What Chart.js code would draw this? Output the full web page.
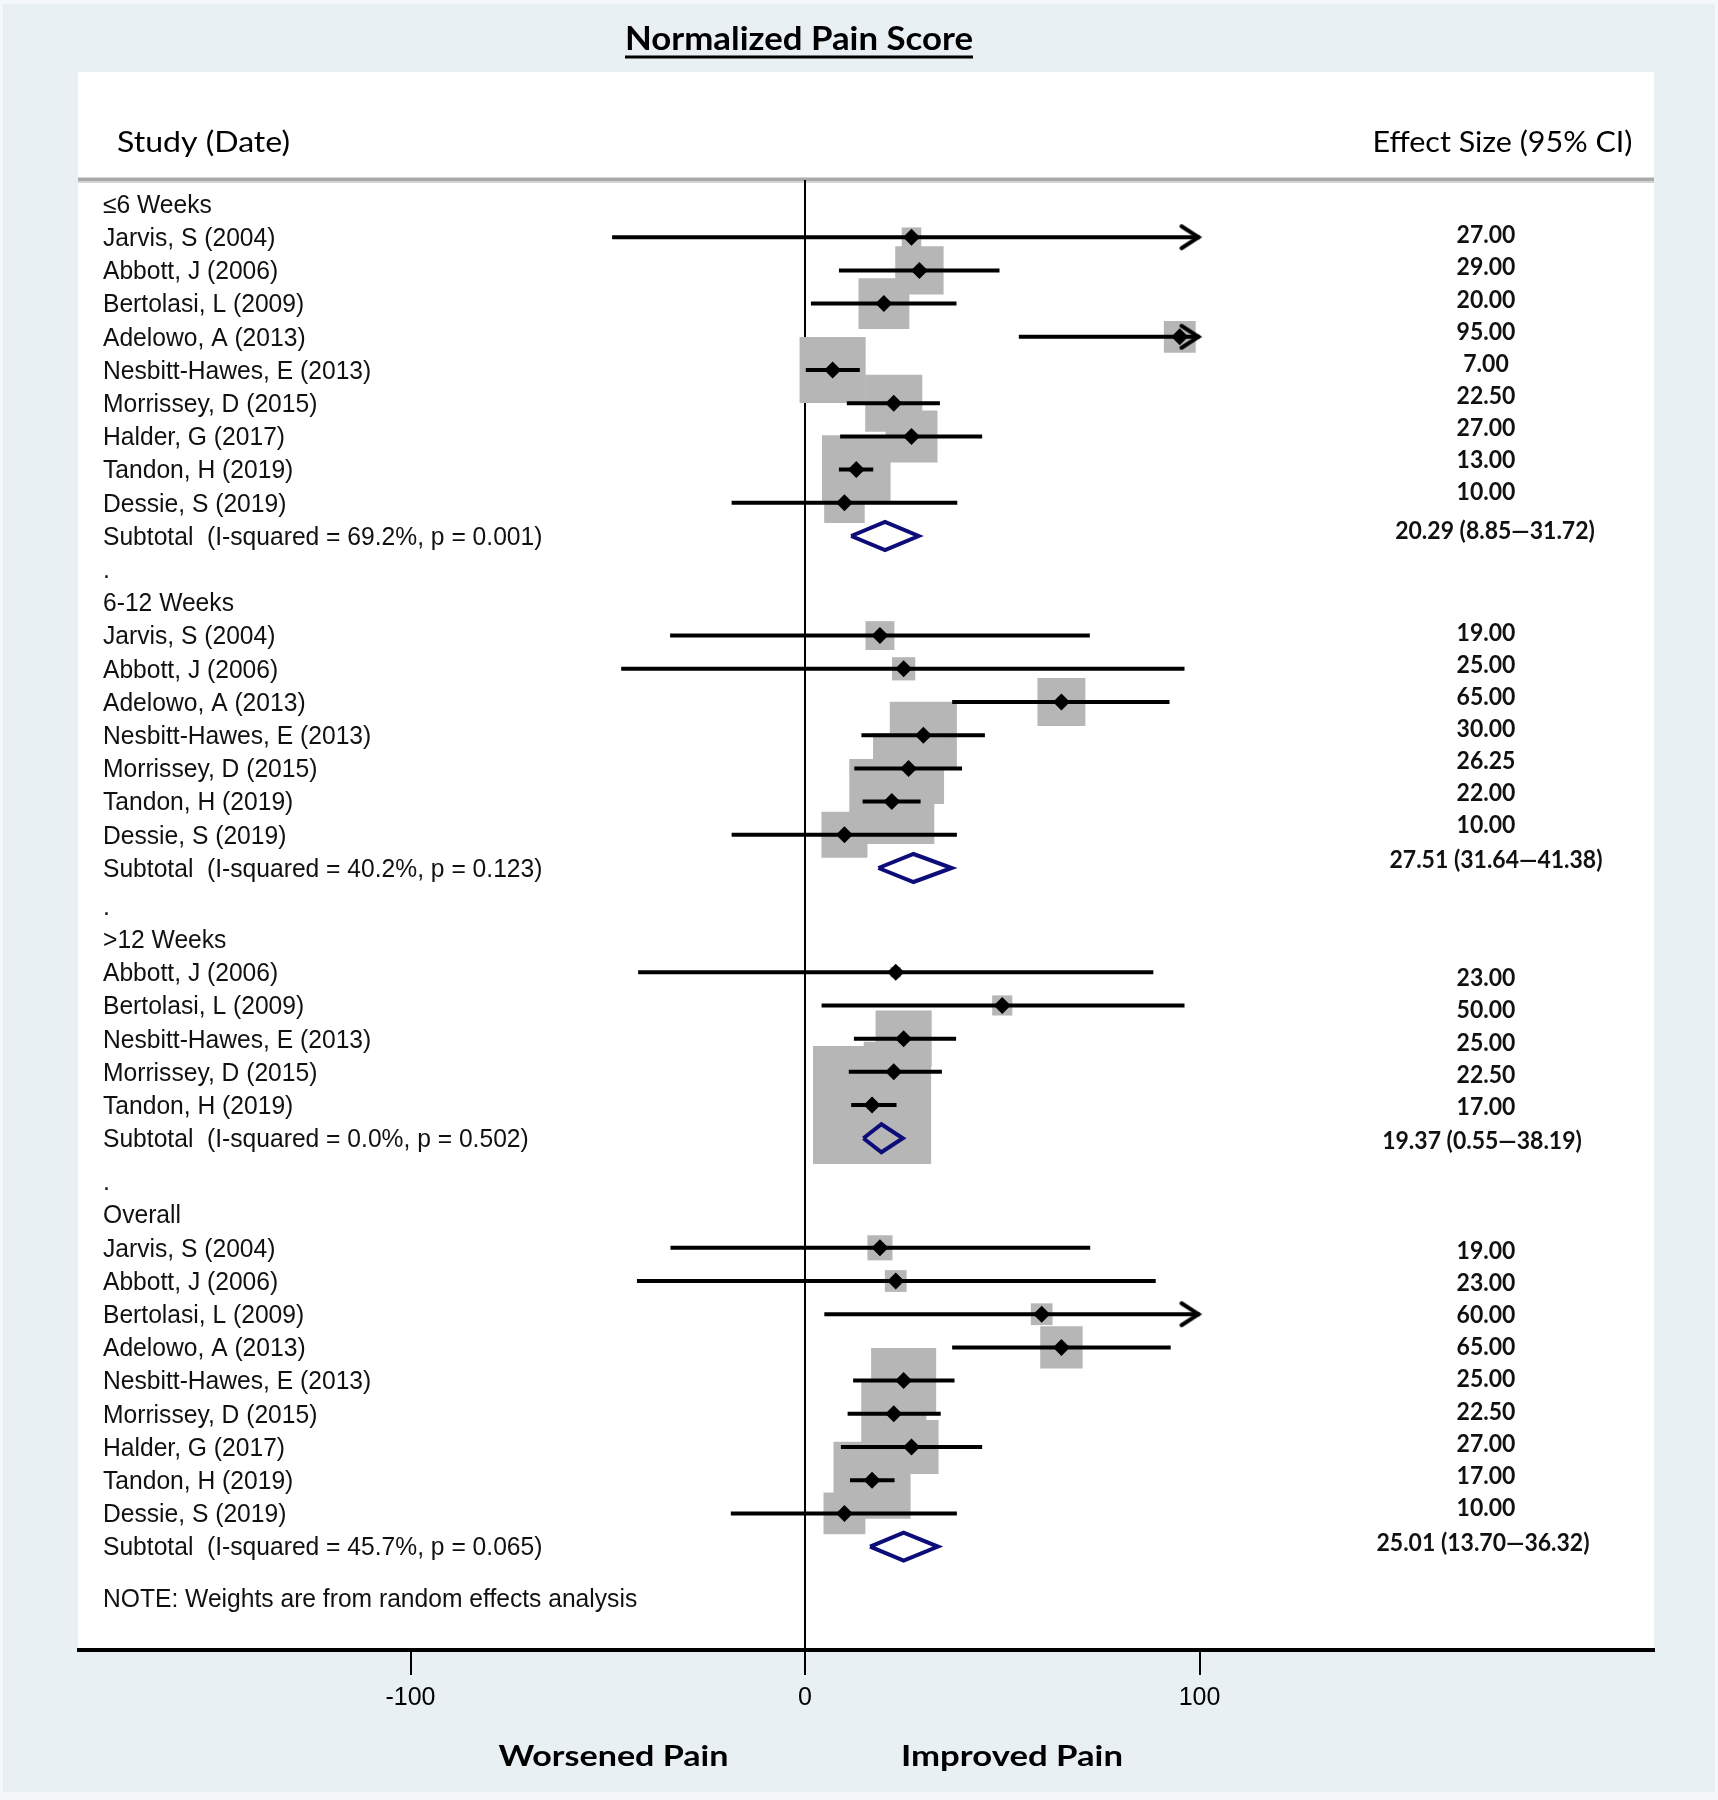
<!DOCTYPE html>
<html>
<head>
<meta charset="utf-8">
<title>Normalized Pain Score</title>
<script src="https://cdn.jsdelivr.net/npm/chart.js@4.4.1/dist/chart.umd.min.js"></script>
<style>
  html, body { margin: 0; padding: 0; background: #e9f0f3; }
  #wrap { width: 1718px; height: 1800px; }
</style>
</head>
<body>
<div id="wrap"><canvas id="forest" width="1718" height="1800"></canvas></div>
<script>
// ---- data ----
const groups = ["≤6 Weeks", "6-12 Weeks", ">12 Weeks", "Overall"];

const studies1 = ["Jarvis, S (2004)", "Abbott, J (2006)", "Bertolasi, L (2009)", "Adelowo, A (2013)",
  "Nesbitt-Hawes, E (2013)", "Morrissey, D (2015)", "Halder, G (2017)", "Tandon, H (2019)", "Dessie, S (2019)"];
const es1 = [27, 29, 20, 95, 7, 22.5, 27, 13, 10];
const lo1 = [-48.9, 8.6, 1.5, 54.2, 0.2, 10.6, 8.9, 8.6, -18.6];
const hi1 = [103, 49.3, 38.4, 136, 13.9, 34.2, 44.9, 17.3, 38.6];
const wt1 = [1.7, 10.4, 11.5, 4.5, 19.4, 14.5, 12.0, 20.9, 7.3];

const studies2 = ["Jarvis, S (2004)", "Abbott, J (2006)", "Adelowo, A (2013)", "Nesbitt-Hawes, E (2013)",
  "Morrissey, D (2015)", "Tandon, H (2019)", "Dessie, S (2019)"];
const es2 = [19, 25, 65, 30, 26.25, 22, 10];
const lo2 = [-34.2, -46.6, 37.3, 14.3, 12.5, 14.6, -18.6];
const hi2 = [72.2, 96.2, 92.4, 45.6, 39.8, 29.3, 38.5];
const wt2 = [3.7, 2.4, 10.2, 20.0, 22.4, 32.1, 9.4];

const studies3 = ["Abbott, J (2006)", "Bertolasi, L (2009)", "Nesbitt-Hawes, E (2013)", "Morrissey, D (2015)",
  "Tandon, H (2019)"];
const es3 = [23, 50, 25, 22.5, 17];
const lo3 = [-42.3, 4.2, 12.4, 11.1, 11.7];
const hi3 = [88.3, 96.2, 38.3, 34.7, 23.2];
const wt3 = [0.5, 1.8, 14.0, 16.0, 62.0];

const studies4 = ["Jarvis, S (2004)", "Abbott, J (2006)", "Bertolasi, L (2009)", "Adelowo, A (2013)",
  "Nesbitt-Hawes, E (2013)", "Morrissey, D (2015)", "Halder, G (2017)", "Tandon, H (2019)", "Dessie, S (2019)"];
const es4 = [19, 23, 60, 65, 25, 22.5, 27, 17, 10];
const lo4 = [-34.1, -42.6, 4.9, 37.3, 12.2, 10.8, 9.1, 11.4, -18.8];
const hi4 = [72.3, 88.9, 115, 92.7, 37.9, 34.4, 44.9, 22.7, 38.5];
const wt4 = [2.8, 2.1, 2.1, 8.0, 18.8, 18.8, 13.0, 26.4, 7.8];

// pooled (subtotal) estimates, drawn diamond ends and printed text
const pooledES = [20.29, 27.51, 19.37, 25.01];
const diamondLo = [11.7, 18.6, 14.8, 16.5];
const diamondHi = [28.8, 37.2, 24.8, 33.7];
const pooledText = ["20.29 (8.85\u201431.72)", "27.51 (31.64\u201441.38)", "19.37 (0.55\u201438.19)", "25.01 (13.70\u201436.32)"];
const hetText = [
  "Subtotal  (I-squared = 69.2%, p = 0.001)",
  "Subtotal  (I-squared = 40.2%, p = 0.123)",
  "Subtotal  (I-squared = 0.0%, p = 0.502)",
  "Subtotal  (I-squared = 45.7%, p = 0.065)"
];
const tickValues = [-100, 0, 100];
const clipAt = 100;

// ---- layout ----
const studyLists = [studies1, studies2, studies3, studies4];
const esLists = [es1, es2, es3, es4];
const loLists = [lo1, lo2, lo3, lo4];
const hiLists = [hi1, hi2, hi3, hi4];
const wtLists = [wt1, wt2, wt3, wt4];

const rowTop = 204, rowStep = 33.2;       // pixel of row 0 and row spacing
const groupGap = [0, 0, 0.14, 0.3];       // extra rows before each group
const valueShift = [-2, -3, 6, 3];        // effect-size column offsets (px)
const subShift = [-5, -8, 3, -4];
const subCenter = [1495, 1496, 1482, 1483];
const labelShift = 2;
const areaTop = 180, areaBottom = 1650, areaLeft = 79, areaRight = 1654;
const zeroPx = 805, pxPerUnit = 3.945;
const boxScale = 15;                      // px per sqrt(weight %)

const starts = [];
let cur = 0;
studyLists.forEach((s, g) => { cur += groupGap[g]; starts.push(cur); cur += s.length + 3; });

const boxPts = [], boxRad = [], ciPts = [], arrowPts = [], estPts = [], diaPts = [];
studyLists.forEach((s, g) => {
  s.forEach((name, i) => {
    const row = starts[g] + 1 + i;
    const es = esLists[g][i], lo = loLists[g][i], hi = hiLists[g][i];
    boxPts.push({ x: es, y: row });
    boxRad.push(boxScale * Math.sqrt(wtLists[g][i]) / Math.SQRT2);
    ciPts.push({ x: lo, y: row }, { x: Math.min(hi, clipAt), y: row }, { x: null, y: null });
    if (hi > clipAt) arrowPts.push({ x: clipAt, y: row });
    estPts.push({ x: es, y: row });
  });
  const sub = starts[g] + 1 + s.length;
  const h = 14 / rowStep;
  diaPts.push({ x: diamondLo[g], y: sub }, { x: pooledES[g], y: sub - h }, { x: diamondHi[g], y: sub },
    { x: pooledES[g], y: sub + h }, { x: diamondLo[g], y: sub }, { x: null, y: null });
});

// open chevron used as the arrow point style
const arrowImg = document.createElement('canvas');
arrowImg.width = 44; arrowImg.height = 30;
const ac = arrowImg.getContext('2d');
ac.strokeStyle = '#000'; ac.lineWidth = 4; ac.lineCap = 'round';
ac.beginPath(); ac.moveTo(4, 4); ac.lineTo(21, 15); ac.lineTo(4, 26); ac.stroke();

function squeeze(ctx, text, x, y, sx, align) {
  ctx.save();
  ctx.translate(x, y);
  ctx.scale(sx, 1);
  ctx.textAlign = align;
  ctx.fillText(text, 0, 0);
  ctx.restore();
}
function fitText(ctx, text, x, y, width, align) {
  squeeze(ctx, text, x, y, width / ctx.measureText(text).width, align);
}

const background = {
  id: 'background',
  beforeDraw(chart) {
    const c = chart.ctx;
    c.save();
    c.fillStyle = '#f5f8fa';
    c.fillRect(0, 0, chart.width, chart.height);
    c.fillStyle = '#e9f0f3';
    c.fillRect(3, 4, chart.width - 6, chart.height - 12);
    c.fillStyle = '#ffffff';
    c.fillRect(78, 72, 1576, areaBottom - 72);
    c.fillStyle = '#d4d4d4';
    c.fillRect(78, 177, 1576, 6);
    c.fillStyle = '#aaaaaa';
    c.fillRect(78, 178, 1576, 3);
    c.restore();
  }
};

const texts = {
  id: 'texts',
  afterDraw(chart) {
    const c = chart.ctx, y = chart.scales.y;
    c.save();
    c.fillStyle = '#000';
    c.textBaseline = 'alphabetic';
    c.font = 'bold 32px Lato';
    fitText(c, 'Normalized Pain Score', 799, 50, 348, 'center');
    c.fillRect(625, 55.5, 348, 3);
    c.font = '29px Lato';
    fitText(c, 'Study (Date)', 117, 152, 173, 'left');
    fitText(c, 'Effect Size (95% CI)', 1632.5, 152, 260, 'right');
    c.font = 'bold 29px Lato';
    fitText(c, 'Worsened Pain', 613.5, 1766, 230, 'center');
    fitText(c, 'Improved Pain', 1012, 1766, 222, 'center');

    c.textBaseline = 'middle';
    c.fillStyle = '#111';
    const rowY = k => y.getPixelForValue(k) + labelShift;
    studyLists.forEach((s, g) => {
      const st = starts[g];
      c.font = '25px "Liberation Sans"';
      squeeze(c, groups[g], 103, rowY(st), 0.985, 'left');
      s.forEach((name, i) => squeeze(c, name, 103, rowY(st + 1 + i), 0.985, 'left'));
      const sub = st + 1 + s.length;
      squeeze(c, hetText[g], 103, rowY(sub), 0.985, 'left');
      if (g < studyLists.length - 1) c.fillText('.', 103, rowY(starts[g + 1] - 1));
      else squeeze(c, 'NOTE: Weights are from random effects analysis', 103, rowY(sub + 1.56), 0.985, 'left');
      c.font = 'bold 25px Lato';
      esLists[g].forEach((v, i) => {
        squeeze(c, v.toFixed(2), 1486, y.getPixelForValue(st + 1 + i) + valueShift[g] - 1.07 * i, 0.92, 'center');
      });
      squeeze(c, pooledText[g], subCenter[g], y.getPixelForValue(sub) + subShift[g], 0.92, 'center');
    });
    c.restore();
  }
};

new Chart(document.getElementById('forest'), {
  type: 'scatter',
  data: {
    datasets: [
      { label: 'weight', data: boxPts, pointStyle: 'rect', pointRadius: boxRad, pointHoverRadius: boxRad,
        backgroundColor: '#b6b6b6', borderWidth: 0, order: 5 },
      { label: 'ci', data: ciPts, showLine: true, spanGaps: false, pointRadius: 0, borderColor: '#000',
        borderWidth: 4, borderCapStyle: 'butt', order: 4 },
      { label: 'arrow', data: arrowPts, pointStyle: arrowImg, pointRadius: 10, order: 3 },
      { label: 'estimate', data: estPts, pointStyle: 'rectRot', pointRadius: 8.5, pointHoverRadius: 8.5,
        backgroundColor: '#000', borderWidth: 0, order: 2 },
      { label: 'pooled', data: diaPts, showLine: true, spanGaps: false, pointRadius: 0, borderColor: '#0d0d7a',
        borderWidth: 4, borderJoinStyle: 'miter', order: 1 }
    ]
  },
  options: {
    responsive: false,
    animation: false,
    devicePixelRatio: 1,
    events: [],
    layout: {
      autoPadding: false,
      padding: { left: areaLeft, right: 1718 - areaRight, top: areaTop, bottom: 1800 - areaBottom - 60 }
    },
    plugins: { legend: { display: false }, tooltip: { enabled: false } },
    scales: {
      x: {
        type: 'linear',
        position: 'bottom',
        min: (areaLeft - zeroPx) / pxPerUnit,
        max: (areaRight - zeroPx) / pxPerUnit,
        afterBuildTicks: s => { s.ticks = tickValues.map(v => ({ value: v })); },
        afterFit: s => { s.height = 60; s.paddingLeft = 0; s.paddingRight = 0; },
        border: { display: true, color: '#000', width: 4 },
        grid: {
          color: c => (c.tick && c.tick.value === 0 ? '#000' : 'rgba(0,0,0,0)'),
          lineWidth: 2,
          drawTicks: true,
          tickLength: 25,
          tickColor: '#000',
          tickWidth: 2
        },
        ticks: { color: '#000', font: { family: 'Liberation Sans', size: 25 }, padding: 8, callback: v => String(v) }
      },
      y: {
        type: 'linear',
        display: false,
        reverse: true,
        min: (areaTop - rowTop) / rowStep,
        max: (areaBottom - rowTop) / rowStep
      }
    }
  },
  plugins: [background, texts]
});
</script>
</body>
</html>
